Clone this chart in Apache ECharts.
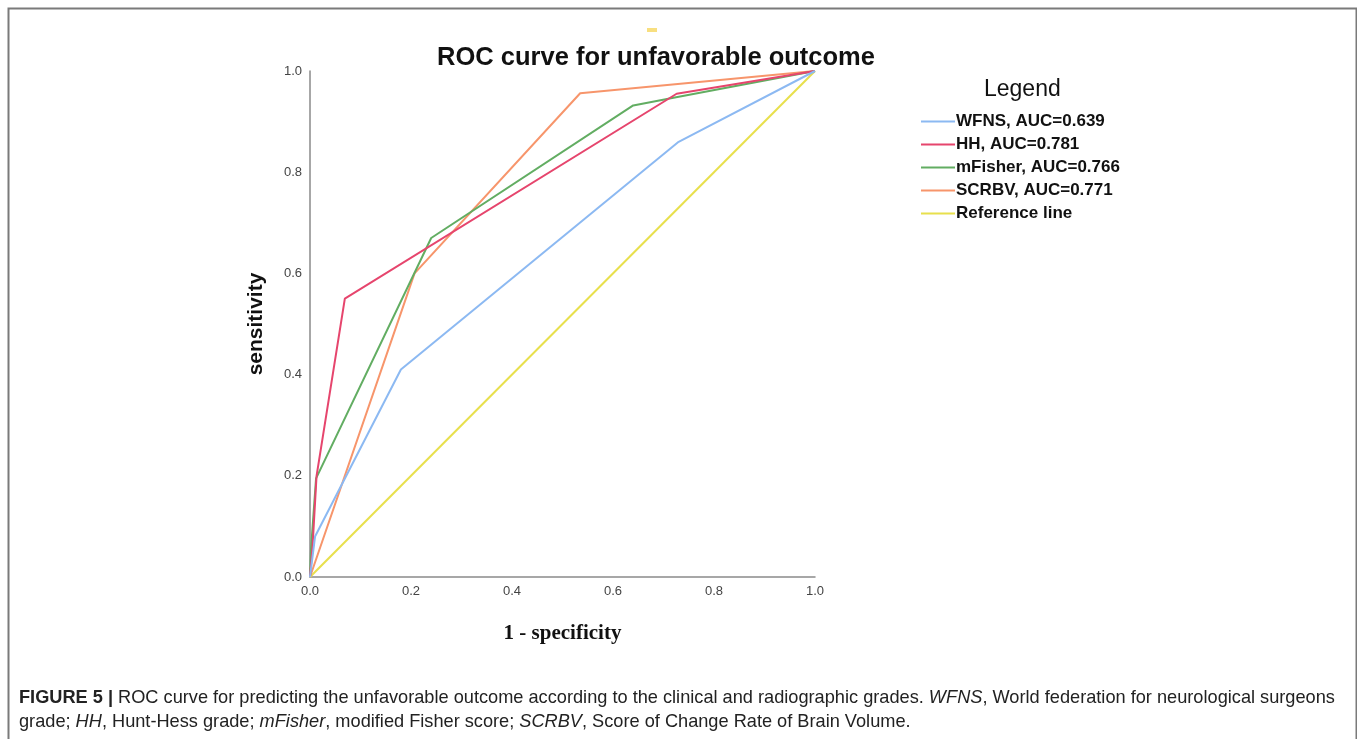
<!DOCTYPE html>
<html>
<head>
<meta charset="utf-8">
<script src="https://cdn.jsdelivr.net/npm/echarts@6/dist/echarts.min.js"></script>
<style>
html,body{margin:0;padding:0;background:#fff;}
#chart{width:1357px;height:739px;}
</style>
</head>
<body>
<div id="chart"></div>
<script>
// ---- data (1 - specificity, sensitivity) ----
const seriesNames = ['WFNS, AUC=0.639', 'HH, AUC=0.781', 'mFisher, AUC=0.766', 'SCRBV, AUC=0.771', 'Reference line'];
const wfns    = [[0, 0], [0.01, 0.08], [0.18, 0.41], [0.73, 0.86], [1, 1]];
const hh      = [[0, 0], [0.005, 0.06], [0.013, 0.20], [0.069, 0.55], [0.726, 0.955], [1, 1]];
const mfisher = [[0, 0], [0.002, 0.055], [0.012, 0.195], [0.24, 0.67], [0.64, 0.932], [0.725, 0.948], [1, 1]];
const scrbv   = [[0, 0], [0.207, 0.60], [0.535, 0.956], [1, 1]];
const refLine = [[0, 0], [1, 1]];
const tickValues = [0, 0.2, 0.4, 0.6, 0.8, 1.0];
const colors = ['#8cb9f2', '#e6456d', '#62ad62', '#f7956b', '#e8e04c'];

const chart = echarts.init(document.getElementById('chart'), null, {renderer: 'canvas'});
const dataSets = [wfns, hh, mfisher, scrbv, refLine];

const option = {
  animation: false,
  backgroundColor: '#ffffff',
  title: {
    text: 'ROC curve for unfavorable outcome',
    left: 651, top: 40, textAlign: 'center',
    textStyle: {fontFamily: 'Liberation Sans, Arial, sans-serif', fontWeight: 'bold', fontSize: 25.5, color: '#111'}
  },
  legend: {
    orient: 'vertical',
    left: 916, top: 108,
    itemWidth: 34, itemHeight: 2, itemGap: 6,
    icon: 'rect',
    data: seriesNames,
    textStyle: {fontFamily: 'Liberation Sans, Arial, sans-serif', fontWeight: 'bold', fontSize: 17, color: '#111', padding: [0,0,0,-4]}
  },
  grid: {left: 310, top: 71, right: 542, bottom: 162, containLabel: false},
  xAxis: {
    type: 'value', min: 0, max: 1, interval: 0.2,
    axisLine: {show: true, lineStyle: {color: '#8a8a8a', width: 1.5}},
    axisTick: {show: false},
    splitLine: {show: false},
    axisLabel: {
      color: '#444', fontSize: 13, fontFamily: 'Liberation Sans, Arial, sans-serif', margin: 8,
      formatter: v => tickValues.some(t => Math.abs(t - v) < 1e-9) ? v.toFixed(1) : ''
    },
    name: '1 - specificity', nameLocation: 'middle', nameGap: 46,
    nameTextStyle: {fontFamily: 'Liberation Serif, Times New Roman, serif', fontWeight: 'bold', fontSize: 21, color: '#111'}
  },
  yAxis: {
    type: 'value', min: 0, max: 1, interval: 0.2,
    axisLine: {show: true, lineStyle: {color: '#8a8a8a', width: 1.5}},
    axisTick: {show: false},
    splitLine: {show: false},
    axisLabel: {
      color: '#444', fontSize: 13, fontFamily: 'Liberation Sans, Arial, sans-serif', margin: 8,
      formatter: v => tickValues.some(t => Math.abs(t - v) < 1e-9) ? v.toFixed(1) : ''
    },
    name: 'sensitivity', nameLocation: 'middle', nameGap: 43, nameRotate: 90,
    nameTextStyle: {fontFamily: 'Liberation Sans, Arial, sans-serif', fontWeight: 'bold', fontSize: 21, color: '#111'}
  },
  series: dataSets.map((d, i) => ({
    name: seriesNames[i],
    type: 'line',
    data: d,
    showSymbol: false,
    symbol: 'none',
    lineStyle: {color: colors[i], width: 2},
    itemStyle: {color: colors[i]},
    z: 10 - i
  })),
  graphic: [
    {type: 'rect', left: 6, top: 6, shape: {width: 1348, height: 740}, style: {fill: 'none', stroke: '#7a7a7a', lineWidth: 2}, silent: true},
    {type: 'rect', left: 647, top: 28, shape: {width: 10, height: 4}, style: {fill: '#f8df80'}, silent: true},
    {type: 'text', left: 984, top: 78, style: {text: 'Legend', font: '23px "Liberation Sans", Arial, sans-serif', fill: '#111'}, silent: true},
    {
      type: 'text', left: 19, top: 686,
      style: {
        text: '{b|FIGURE 5 |} ROC curve for predicting the unfavorable outcome according to the clinical and radiographic grades. {i|WFNS}, World federation for neurological surgeons\ngrade; {i|HH}, Hunt-Hess grade; {i|mFisher}, modified Fisher score; {i|SCRBV}, Score of Change Rate of Brain Volume.',
        font: '18.2px "Liberation Sans", Arial, sans-serif',
        fill: '#222',
        lineHeight: 24,
        rich: {
          b: {fontWeight: 'bold', fontSize: 18.2, fontFamily: 'Liberation Sans, Arial, sans-serif', fill: '#222', lineHeight: 24},
          i: {fontStyle: 'italic', fontSize: 18.2, fontFamily: 'Liberation Sans, Arial, sans-serif', fill: '#222', lineHeight: 24}
        }
      },
      silent: true
    }
  ]
};
chart.setOption(option);
</script>
</body>
</html>
